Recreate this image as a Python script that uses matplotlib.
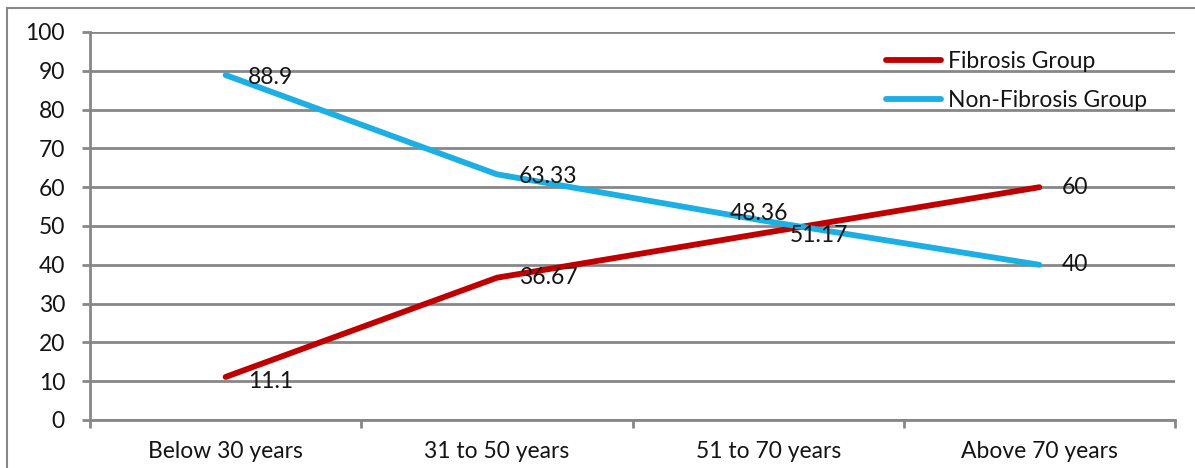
import numpy as np
import matplotlib
matplotlib.use('Agg')
import matplotlib.pyplot as plt
from matplotlib.patches import Rectangle

plt.rcParams['font.family'] = ['Lato', 'DejaVu Sans']

age_groups = ['Below 30 years', '31 to 50 years', '51 to 70 years', 'Above 70 years']
fibrosis = [11.1, 36.67, 48.36, 60]
non_fibrosis = [88.9, 63.33, 51.17, 40]
y_ticks = list(range(0, 101, 10))

RED = '#C00000'
BLUE = '#1CAFE3'
GRID = '#878787'
TEXT = '#141414'
FS = 16.5

W, H = 1195, 468
fig = plt.figure(figsize=(W / 100, H / 100), dpi=100)
ax = fig.add_axes([90 / W, (H - 420) / H, (1175 - 90) / W, (420 - 32) / H])

x = np.arange(len(age_groups))
ax.plot(x, fibrosis, color=RED, lw=4.2, solid_capstyle='round',
        solid_joinstyle='round', label='Fibrosis Group', zorder=3)
ax.plot(x, non_fibrosis, color=BLUE, lw=4.2, solid_capstyle='round',
        solid_joinstyle='round', label='Non-Fibrosis Group', zorder=3)

# data labels, offsets in pixels from each point
red_off = [(22, -5), (22, 0), (-38, 19), (22, 0)]
blue_off = [(22, -2), (22, -2), (22, -14), (22, 0)]
for xi, v, off in zip(x, fibrosis, red_off):
    ax.annotate(f'{v:g}', (xi, v), xytext=off, textcoords='offset pixels',
                ha='left', va='center', fontsize=FS, color=TEXT, zorder=4)
for xi, v, off in zip(x, non_fibrosis, blue_off):
    ax.annotate(f'{v:g}', (xi, v), xytext=off, textcoords='offset pixels',
                ha='left', va='center', fontsize=FS, color=TEXT, zorder=4)

ax.set_xlim(-0.5, len(age_groups) - 0.5)
ax.set_ylim(0, 100)
ax.set_yticks(y_ticks)
ax.set_xticks(x)
ax.set_xticklabels(age_groups)
ax.set_xticks(np.arange(-0.5, len(age_groups), 1.0), minor=True)
ax.yaxis.grid(True, color=GRID, lw=2, zorder=1)
ax.set_axisbelow(True)

ax.tick_params(axis='y', which='major', length=6, width=2, color=GRID,
               pad=12, labelsize=FS, labelcolor=TEXT)
ax.tick_params(axis='x', which='major', length=0, pad=15,
               labelsize=FS, labelcolor=TEXT)
ax.tick_params(axis='x', which='minor', length=6, width=2, color=GRID)

for side in ['top', 'right']:
    ax.spines[side].set_visible(False)
for side in ['left', 'bottom']:
    ax.spines[side].set_color(GRID)
    ax.spines[side].set_linewidth(2)

ax.legend(loc='upper left', bbox_to_anchor=(886 / W, (H - 51) / H),
          bbox_transform=fig.transFigure, frameon=False, fontsize=FS,
          handlelength=2.4, handletextpad=0.3, borderpad=0,
          borderaxespad=0, labelspacing=0.8, labelcolor=TEXT)

# outer chart border
fig.patches.append(Rectangle((7 / W, -0.1), 1.2, (H - 8) / H + 0.1,
                             transform=fig.transFigure, fill=False,
                             edgecolor=GRID, lw=1.5))

fig.savefig('out.png', dpi=100)
